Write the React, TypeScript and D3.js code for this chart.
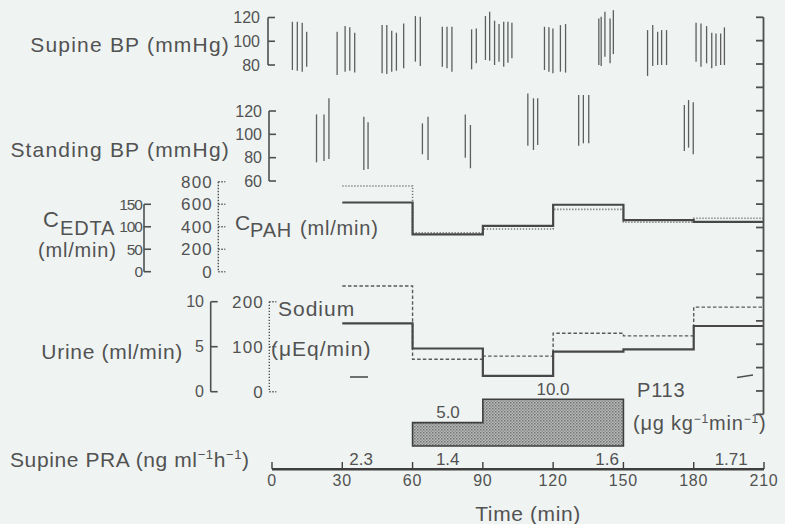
import React from 'react';
import * as d3 from 'd3';

const W = 785;
const H = 524;

// [time (min), systolic, diastolic]
const supineBP: [number, number, number][] = [
  [8.7, 116.4, 75.8], [10.8, 116.4, 75.2], [12.9, 115.6, 74.4], [14.8, 108, 78.6],
  [27.8, 108, 71.6], [31.2, 112.8, 74.4], [33.2, 111.7, 75.2], [35.3, 107.2, 73.6],
  [47, 113.6, 73], [49, 113.6, 72.4], [51.1, 108.9, 74.4], [53.1, 107.2, 75.2], [56.2, 115, 77.2],
  [61.2, 121.2, 82.8], [63.3, 120.6, 79.2],
  [72.7, 112.2, 78.6], [74.7, 112.2, 77.2], [76.8, 112.2, 74.4],
  [85.2, 110, 76.4], [87.2, 110.8, 81.4], [91.1, 121.2, 84.2], [92.9, 124.8, 83.6], [95, 117.3, 80],
  [96.9, 114.5, 82.8], [98.9, 116.4, 78.6], [100.7, 116.4, 81.8], [102.4, 115.6, 85.6],
  [116.3, 112.2, 75.8], [118.2, 111.7, 74.4], [119.9, 110.8, 73], [123.1, 113.6, 74.4], [125.3, 114.5, 73.6],
  [139.5, 119.2, 80], [140.5, 120.6, 79.2], [142.1, 124.8, 87], [144.3, 119.2, 81.4], [145.7, 126.2, 89.2],
  [160.3, 109.4, 70.8], [162.5, 113.6, 79.2], [164.6, 108, 80], [166.3, 109.4, 80], [168.4, 109.4, 80],
  [181, 115.6, 82.8], [183.1, 115, 78.6], [185.5, 112.8, 81.4], [187.7, 107.2, 77.2],
  [189.5, 106.6, 79.2], [191.5, 106.6, 80], [193.1, 111.7, 80],
];

const standingBP: [number, number, number][] = [
  [19, 117.1, 76], [22.2, 117.1, 77.1], [24.3, 130.9, 78.9],
  [39.2, 115.1, 69.4], [41, 110.3, 70.3],
  [64.2, 109.4, 82.9], [66.6, 115.1, 78],
  [82.5, 117.1, 80], [84.7, 108, 70.9],
  [109.2, 135.1, 90.3], [111.6, 130.9, 86.6], [113.4, 130.9, 90.9],
  [130.9, 133.7, 90.3], [132.9, 133.7, 92.3], [135.2, 133.7, 92.3],
  [176, 125.1, 85.7], [177.8, 129.4, 88.6], [179.8, 127.4, 82.9],
];

// clearance / urine periods start at these times
const periodStarts = [30, 60, 90, 120, 150, 180, 210];
const cEDTA = [154, 83, 102, 149, 115, 111];
const cPAH = [763, 347, 380, 555, 440, 475];
const urineFlow = [7.6, 4.8, 1.75, 4.45, 4.7, 7.3];
const urineSodium = [235, 72, 79, 130, 124, 188];

// P113 infusion
const p113Times = [60, 90, 150];
const p113Dose = [5.0, 10.0];

// supine plasma renin activity
const praTimes = [38, 75, 143, 196];
const praValues = ['2.3', '1.4', '1.6', '1.71'];

const timeTicks = [0, 30, 60, 90, 120, 150, 180, 210];
const supineTicks = [120, 100, 80];
const standingTicks = [120, 100, 80, 60];
const edtaTicks = [150, 100, 50, 0];
const pahTicks = [800, 600, 400, 200, 0];
const urineTicks = [10, 5, 0];
const sodiumTicks = [200, 100, 0];

const INK = '#525252';
const LINE = '#4f4f4f';
const FONT = '"Liberation Sans", Arial, sans-serif';

const x = d3.scaleLinear().domain([0, 210]).range([272, 764]);
const ySup = d3.scaleLinear().domain([80, 120]).range([65, 17.5]);
const yStand = d3.scaleLinear().domain([60, 120]).range([181, 111]);
const yEdta = d3.scaleLinear().domain([0, 150]).range([271.7, 204.3]);
const yPah = d3.scaleLinear().domain([0, 800]).range([271.7, 181.8]);
const yUrine = d3.scaleLinear().domain([0, 10]).range([391.7, 301.7]);
const yNa = d3.scaleLinear().domain([0, 200]).range([391.7, 301.7]);
const yDose = d3.scaleLinear().domain([0, 10]).range([446, 399.3]);

const step = (vals: number[], y: d3.ScaleLinear<number, number>) =>
  d3.line<[number, number]>()
    .x(d => x(d[0]))
    .y(d => y(d[1]))
    .curve(d3.curveStepAfter)(
      periodStarts.map((t, i) => [t, vals[Math.min(i, vals.length - 1)]] as [number, number])
    ) || '';

const Bracket = ({ ax, scale, ticks, dir = 1, dotted = false }: any) => {
  const ys = ticks.map((t: number) => scale(t));
  const top = Math.min(...ys);
  const bot = Math.max(...ys);
  const dash = dotted ? '1.4 1.6' : undefined;
  return (
    <g stroke={LINE} strokeWidth={dotted ? 1.4 : 1.6} strokeDasharray={dash} fill="none">
      <line x1={ax} x2={ax} y1={top} y2={bot} />
      {ys.map((yy: number, i: number) => (
        <line key={i} x1={ax} x2={ax + dir * 7} y1={yy} y2={yy} />
      ))}
    </g>
  );
};

const TickLabels = ({ ax, scale, ticks, size = 16, ls = 0 }: any) => (
  <g fill={INK} fontSize={size} textAnchor="end" letterSpacing={ls}>
    {ticks.map((t: number) => (
      <text key={t} x={ax} y={scale(t)} dy="0.36em">{t}</text>
    ))}
  </g>
);

export default function App() {
  const doseArea = d3.area<number>()
    .x((_, i) => x(p113Times[i]))
    .y0(yDose(0))
    .y1((_, i) => yDose(p113Dose[Math.min(i, p113Dose.length - 1)]))
    .curve(d3.curveStepAfter)(p113Times.map((_, i) => i)) || '';

  const rightTicks = d3.range(18).map(i => 17.3 + i * (397 / 17));

  return (
    <svg width={W} height={H} style={{ position: 'absolute', left: 0, top: 0, background: '#eff4f2' }}
      fontFamily={FONT}>
      <defs>
        <pattern id="dots" width="3" height="3" patternUnits="userSpaceOnUse">
          <rect width="3" height="3" fill="#b8bab9" />
          <rect width="1.5" height="1.5" fill="#727473" />
          <rect x="1.5" y="1.5" width="1.5" height="1.5" fill="#8e908f" />
        </pattern>
      </defs>
      <rect width={W} height={H} fill="#eff4f2" />

      {/* left labels */}
      <g fill={INK} fontSize={21} letterSpacing={1.2} textAnchor="end">
        <text x={230} y={52}>Supine BP (mmHg)</text>
        <text x={230} y={157}>Standing BP (mmHg)</text>
        <text x={183} y={359} letterSpacing={0.7}>Urine (ml/min)</text>
      </g>

      {/* supine BP */}
      <Bracket ax={268} scale={ySup} ticks={supineTicks} />
      <TickLabels ax={260} scale={ySup} ticks={supineTicks} />
      <g stroke="#5e5e5e" strokeWidth={1.3}>
        {supineBP.map((d, i) => (
          <line key={i} x1={x(d[0])} x2={x(d[0])} y1={ySup(d[1])} y2={ySup(d[2])} />
        ))}
      </g>

      {/* standing BP */}
      <Bracket ax={269} scale={yStand} ticks={standingTicks} />
      <TickLabels ax={262} scale={yStand} ticks={standingTicks} />
      <g stroke="#5e5e5e" strokeWidth={1.3}>
        {standingBP.map((d, i) => (
          <line key={i} x1={x(d[0])} x2={x(d[0])} y1={yStand(d[1])} y2={yStand(d[2])} />
        ))}
      </g>

      {/* clearances */}
      <g fill={INK}>
        <text x={43} y={227} fontSize={22}>C</text>
        <text x={60} y={235} fontSize={20} letterSpacing={0.8}>EDTA</text>
        <text x={38} y={257} fontSize={20} letterSpacing={0.8}>(ml/min)</text>
        <text x={235} y={230} fontSize={21}>C</text>
        <text x={250} y={237} fontSize={20} letterSpacing={0.8}>PAH</text>
        <text x={300} y={235} fontSize={20} letterSpacing={0.8}>(ml/min)</text>
      </g>
      <Bracket ax={144} scale={yEdta} ticks={edtaTicks} />
      <TickLabels ax={142} scale={yEdta} ticks={edtaTicks} size={15.5} ls={-1} />
      <Bracket ax={218.3} scale={yPah} ticks={pahTicks} dotted />
      <TickLabels ax={213} scale={yPah} ticks={pahTicks} size={17} ls={1.2} />
      <path d={step(cPAH, yPah)} fill="none" stroke="#7a7a7a" strokeWidth={1.6} strokeDasharray="1.3 1.7" />
      <path d={step(cEDTA, yEdta)} fill="none" stroke="#474747" strokeWidth={2.2} />

      {/* urine */}
      <Bracket ax={210.7} scale={yUrine} ticks={urineTicks} />
      <TickLabels ax={204} scale={yUrine} ticks={urineTicks} size={16} />
      <Bracket ax={269.3} scale={yNa} ticks={sodiumTicks} dotted />
      <TickLabels ax={264} scale={yNa} ticks={sodiumTicks} size={17} ls={1.2} />
      <g fill={INK} fontSize={21} letterSpacing={1}>
        <text x={278} y={316}>Sodium</text>
        <text x={271} y={356}>(μEq/min)</text>
      </g>
      <line x1={350} x2={368} y1={377} y2={377} stroke={LINE} strokeWidth={1.6} />
      <line x1={737} x2={753} y1={377.5} y2={375} stroke={LINE} strokeWidth={1.6} />
      <path d={step(urineSodium, yNa)} fill="none" stroke="#5a5a5a" strokeWidth={1.4} strokeDasharray="3.5 2.2" />
      <path d={step(urineFlow, yUrine)} fill="none" stroke="#474747" strokeWidth={2.2} />

      {/* right axis */}
      <g stroke={LINE} strokeWidth={1.8}>
        <line x1={763.5} x2={763.5} y1={rightTicks[0]} y2={rightTicks[17]} />
        {rightTicks.map((yy, i) => (
          <line key={i} x1={756} x2={763.5} y1={yy} y2={yy} />
        ))}
      </g>

      {/* P113 infusion */}
      <path d={doseArea + 'Z'} fill="url(#dots)" stroke="#3e3e3e" strokeWidth={1.6} />
      <g fill={INK} fontSize={17} textAnchor="middle">
        <text x={448} y={418}>{p113Dose[0].toFixed(1)}</text>
        <text x={553} y={395}>{p113Dose[1].toFixed(1)}</text>
      </g>
      <g fill={INK} fontSize={20} letterSpacing={0.8}>
        <text x={637} y={397}>P113</text>
        <text x={633} y={430}>
          (μg kg<tspan dy={-7} fontSize={12}>−1</tspan><tspan dy={7}>min</tspan>
          <tspan dy={-7} fontSize={12}>−1</tspan><tspan dy={7}>)</tspan>
        </text>
      </g>

      {/* PRA and time axis */}
      <text x={10} y={467} fill={INK} fontSize={21} letterSpacing={0.6}>
        Supine PRA (ng ml<tspan dy={-8} fontSize={13}>−1</tspan><tspan dy={8}>h</tspan>
        <tspan dy={-8} fontSize={13}>−1</tspan><tspan dy={8}>)</tspan>
      </text>
      <g stroke="#3e3e3e">
        <line x1={x(0)} x2={x(210)} y1={469.3} y2={469.3} strokeWidth={2.6} />
        {timeTicks.map(t => (
          <line key={t} x1={x(t)} x2={x(t)} y1={469} y2={462} strokeWidth={1.4} />
        ))}
      </g>
      <g fill={INK} fontSize={17} textAnchor="middle">
        {praValues.map((v, i) => (
          <text key={i} x={x(praTimes[i])} y={465}>{v}</text>
        ))}
      </g>
      <g fill={INK} fontSize={16} textAnchor="middle" letterSpacing={0.8}>
        {timeTicks.map(t => (
          <text key={t} x={x(t)} y={486}>{t}</text>
        ))}
      </g>
      <text x={528} y={521} fill={INK} fontSize={21} textAnchor="middle" letterSpacing={0.6}>Time (min)</text>
    </svg>
  );
}
